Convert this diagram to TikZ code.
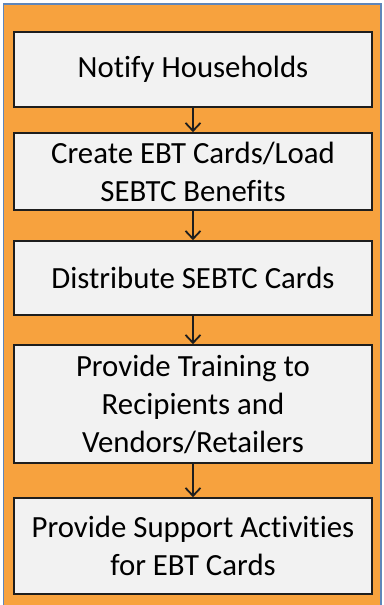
\documentclass[tikz,border=0pt]{standalone}
\usepackage{fontspec}
\setmainfont{Carlito}[RawFeature={-liga;-clig;-dlig}]
\usetikzlibrary{arrows.meta}
\definecolor{bgorange}{HTML}{F7A23E}
\definecolor{frameblue}{HTML}{5F86BA}
\definecolor{boxgray}{HTML}{F2F2F2}
\definecolor{boxline}{HTML}{1E1E1E}
\tikzset{
  x=1pt, y=-1pt,
  stepbox/.style={draw=boxline, line width=1.6pt, fill=boxgray, align=center,
    font=\fontsize{30.8}{38}\selectfont, inner sep=0pt},
  flow/.style={draw=boxline, line width=1.8pt, -{Straight Barb[length=8pt,width=15pt,line width=1.8pt]}}
}
\begin{document}
\begin{tikzpicture}
\useasboundingbox (0,0) rectangle (383,605);
\begin{scope}
\clip (0,0) rectangle (383,605);
\fill[white] (0,0) rectangle (383,605);
\draw[frameblue, fill=bgorange, line width=1.2pt] (3.5,4) rectangle (381,615);
\end{scope}
\node[stepbox, minimum width=358pt, minimum height=75pt] (n1) at (193,69.5) {Notify Households};
\node[stepbox, minimum width=358pt, minimum height=77pt] (n2) at (193,171.5) {Create EBT Cards/Load\\SEBTC Benefits};
\node[stepbox, minimum width=358pt, minimum height=74pt] (n3) at (193,278) {Distribute SEBTC Cards};
\node[stepbox, minimum width=358pt, minimum height=118pt] (n4) at (193,404) {Provide Training to\\Recipients and\\Vendors/Retailers};
\node[stepbox, minimum width=358pt, minimum height=96pt] (n5) at (193,546) {Provide Support Activities\\for EBT Cards};
\draw[flow] (n1.south) -- (n2.north);
\draw[flow] (n2.south) -- (n3.north);
\draw[flow] (n3.south) -- (n4.north);
\draw[flow] (n4.south) -- (n5.north);
\end{tikzpicture}
\end{document}
